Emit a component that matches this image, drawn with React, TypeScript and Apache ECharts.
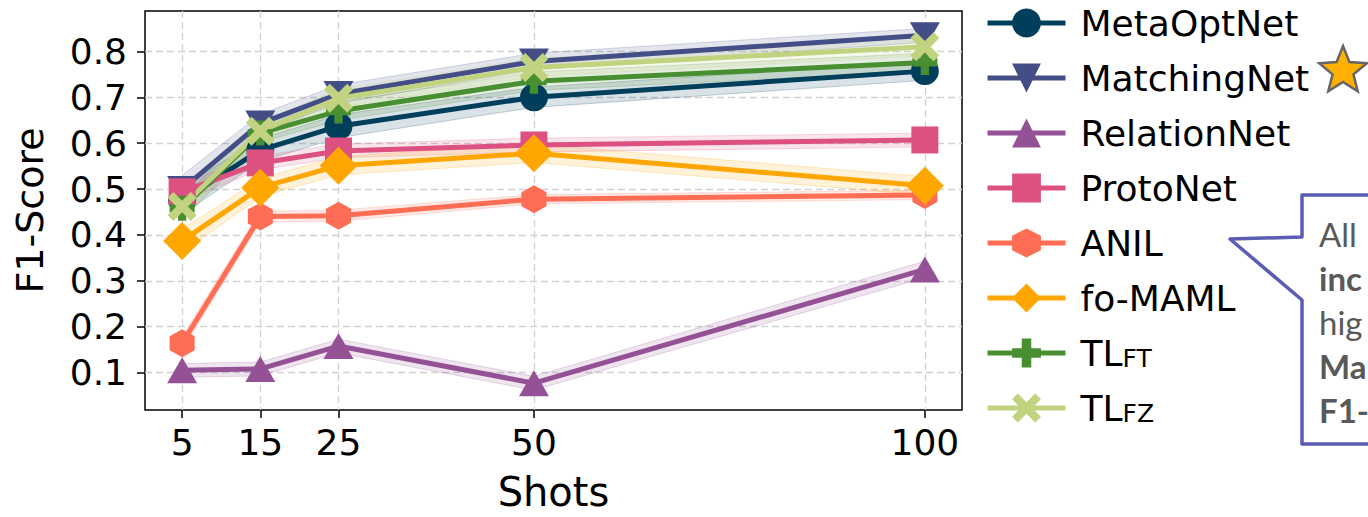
import React, { useEffect, useRef } from "react";
import * as echarts from "echarts";

const shots = [5, 15, 25, 50, 100];
const yTicks = [0.1, 0.2, 0.3, 0.4, 0.5, 0.6, 0.7, 0.8];

const metaOptNet = [0.475, 0.585, 0.637, 0.7, 0.757];
const matchingNet = [0.5, 0.643, 0.707, 0.778, 0.835];
const relationNet = [0.105, 0.108, 0.158, 0.077, 0.325];
const protoNet = [0.494, 0.557, 0.583, 0.596, 0.607];
const anil = [0.164, 0.44, 0.442, 0.478, 0.487];
const foMaml = [0.387, 0.503, 0.551, 0.578, 0.507];
const tlFt = [0.458, 0.622, 0.67, 0.735, 0.776];
const tlFz = [0.462, 0.626, 0.698, 0.765, 0.81];

const metaOptNetStd = [0.03, 0.025, 0.025, 0.022, 0.02];
const matchingNetStd = [0.03, 0.02, 0.02, 0.018, 0.015];
const relationNetStd = [0.015, 0.015, 0.015, 0.015, 0.018];
const protoNetStd = [0.02, 0.015, 0.015, 0.015, 0.015];
const anilStd = [0.015, 0.012, 0.012, 0.01, 0.01];
const foMamlStd = [0.025, 0.02, 0.02, 0.02, 0.02];
const tlFtStd = [0.025, 0.02, 0.02, 0.02, 0.02];
const tlFzStd = [0.025, 0.02, 0.02, 0.02, 0.02];

const noteLines = ["All", "inc", "hig", "Ma", "F1-"];
const noteBold = [false, true, false, true, true];

const HEX = "path://M0,-1 L0.866,-0.5 L0.866,0.5 L0,1 L-0.866,0.5 L-0.866,-0.5 Z";
const PLUS =
  "path://M-1,-0.33 L-0.33,-0.33 L-0.33,-1 L0.33,-1 L0.33,-0.33 L1,-0.33 L1,0.33 L0.33,0.33 L0.33,1 L-0.33,1 L-0.33,0.33 L-1,0.33 Z";
const XF =
  "path://M-1,-0.6 L-0.6,-1 L0,-0.4 L0.6,-1 L1,-0.6 L0.4,0 L1,0.6 L0.6,1 L0,0.4 L-0.6,1 L-1,0.6 L-0.4,0 Z";

const methods = [
  { name: "MetaOptNet", values: metaOptNet, std: metaOptNetStd, color: "#003f5c", symbol: "circle", size: 28, rotate: 0 },
  { name: "MatchingNet", values: matchingNet, std: matchingNetStd, color: "#444e86", symbol: "triangle", size: [30, 26], rotate: 180 },
  { name: "RelationNet", values: relationNet, std: relationNetStd, color: "#955196", symbol: "triangle", size: [30, 26], rotate: 0 },
  { name: "ProtoNet", values: protoNet, std: protoNetStd, color: "#dd5182", symbol: "rect", size: 27, rotate: 0 },
  { name: "ANIL", values: anil, std: anilStd, color: "#ff6e54", symbol: HEX, size: [25, 28], rotate: 0 },
  { name: "fo-MAML", values: foMaml, std: foMamlStd, color: "#ffa600", symbol: "diamond", size: [38, 38], rotate: 0 },
  { name: "TL_FT", values: tlFt, std: tlFtStd, color: "#488f31", symbol: PLUS, size: 25, rotate: 0 },
  { name: "TL_FZ", values: tlFz, std: tlFzStd, color: "#c1d37f", symbol: XF, size: 29, rotate: 0 },
];

function hexToRgba(hex: string, a: number) {
  const n = parseInt(hex.slice(1), 16);
  return `rgba(${(n >> 16) & 255},${(n >> 8) & 255},${n & 255},${a})`;
}

function starPoints(cx: number, cy: number, ro: number, ri: number) {
  const pts: number[][] = [];
  for (let i = 0; i < 10; i++) {
    const r = i % 2 === 0 ? ro : ri;
    const ang = -Math.PI / 2 + (i * Math.PI) / 5;
    pts.push([cx + r * Math.cos(ang), cy + r * Math.sin(ang)]);
  }
  return pts;
}

const FONT = "DejaVu Sans";

export default function App() {
  const ref = useRef<HTMLDivElement>(null);
  useEffect(() => {
    document.body.style.margin = "0";
    const chart = echarts.init(ref.current!, null, { renderer: "svg" });

    const bandSeries = methods.map((m) => ({
      type: "custom",
      name: m.name + " band",
      silent: true,
      clip: false,
      z: 1,
      data: [[shots[0], m.values[0]]],
      renderItem: (_params: any, api: any) => {
        const upper = shots.map((x, k) => api.coord([x, m.values[k] + m.std[k]]));
        const lower = shots.map((x, k) => api.coord([x, m.values[k] - m.std[k]])).reverse();
        return {
          type: "polygon",
          shape: { points: upper.concat(lower) },
          style: { fill: hexToRgba(m.color, 0.15), stroke: hexToRgba(m.color, 0.22), lineWidth: 1 },
        };
      },
    }));

    const lineSeries = methods.map((m) => ({
      type: "line",
      name: m.name,
      z: 3,
      data: shots.map((x, k) => [x, m.values[k]]),
      symbol: m.symbol,
      symbolSize: m.size,
      symbolRotate: m.rotate,
      showAllSymbol: true,
      lineStyle: { color: m.color, width: 5 },
      itemStyle: { color: m.color, borderWidth: 0 },
      emphasis: { disabled: true },
    }));

    const star = starPoints(1343, 71, 25, 11);

    chart.setOption({
      animation: false,
      grid: {
        left: 145,
        top: 11,
        right: 406,
        bottom: 100,
        show: true,
        borderColor: "#000",
        borderWidth: 1.5,
        backgroundColor: "transparent",
      },
      xAxis: {
        type: "value",
        min: 0.25,
        max: 104.75,
        name: "Shots",
        nameLocation: "middle",
        nameGap: 62,
        nameTextStyle: { fontFamily: FONT, fontSize: 40, color: "#000" },
        axisLine: { show: false },
        axisTick: { show: true, length: 8, customValues: shots, lineStyle: { color: "#000", width: 1.5 } },
        axisLabel: {
          customValues: shots,
          fontFamily: FONT,
          fontSize: 36,
          color: "#000",
          margin: 14,
        },
        splitLine: { show: true, lineStyle: { color: "#d2d2d2", type: [7, 4], width: 1.3 } },
      },
      yAxis: {
        type: "value",
        min: 0.0186,
        max: 0.888,
        name: "F1-Score",
        nameLocation: "middle",
        nameGap: 96,
        nameTextStyle: { fontFamily: FONT, fontSize: 38, color: "#000" },
        axisLine: { show: false },
        axisTick: { show: true, length: 8, customValues: yTicks, lineStyle: { color: "#000", width: 1.5 } },
        axisLabel: {
          customValues: yTicks,
          formatter: (v: number) => v.toFixed(1),
          fontFamily: FONT,
          fontSize: 36,
          color: "#000",
          margin: 18,
        },
        splitLine: { show: true, lineStyle: { color: "#d2d2d2", type: [7, 4], width: 1.3 } },
      },
      legend: {
        orient: "vertical",
        left: 985,
        top: 5,
        padding: 0,
        itemWidth: 78,
        itemHeight: 36,
        itemGap: 19,
        data: methods.map((m) => m.name),
        selectedMode: false,
        lineStyle: { width: 5 },
        formatter: (name: string) =>
          name === "TL_FT" ? "{m|TL}{s|FT}" : name === "TL_FZ" ? "{m|TL}{s|FZ}" : "{m|" + name + "}",
        textStyle: {
          padding: [0, 0, 0, 10],
          rich: {
            m: { fontFamily: FONT, fontSize: 36, lineHeight: 36, color: "#000" },
            s: { fontFamily: FONT, fontSize: 25, lineHeight: 18, verticalAlign: "bottom", color: "#000" },
          },
        },
      },
      graphic: [
        {
          type: "polygon",
          z: 10,
          shape: { points: star },
          style: { fill: "#ffb000", stroke: "#666666", lineWidth: 2.5 },
        },
        {
          type: "polygon",
          z: 10,
          shape: {
            points: [
              [1450, 195],
              [1302, 195],
              [1302, 237],
              [1230, 239],
              [1302, 300],
              [1302, 444],
              [1450, 444],
            ],
          },
          style: { fill: "#ffffff", stroke: "#5a5db3", lineWidth: 3.5, lineJoin: "round" },
        },
        ...noteLines.map((t, i) => ({
          type: "text",
          z: 11,
          x: 1319,
          y: 234 + i * 44,
          style: {
            text: t,
            fontFamily: "Lato",
            fontSize: 33,
            fontWeight: noteBold[i] ? "bold" : "normal",
            fill: "#595959",
            verticalAlign: "middle",
          },
        })),
      ],
      series: [...bandSeries, ...lineSeries],
    });
    return () => chart.dispose();
  }, []);
  return <div ref={ref} style={{ width: 1368, height: 517 }} />;
}
